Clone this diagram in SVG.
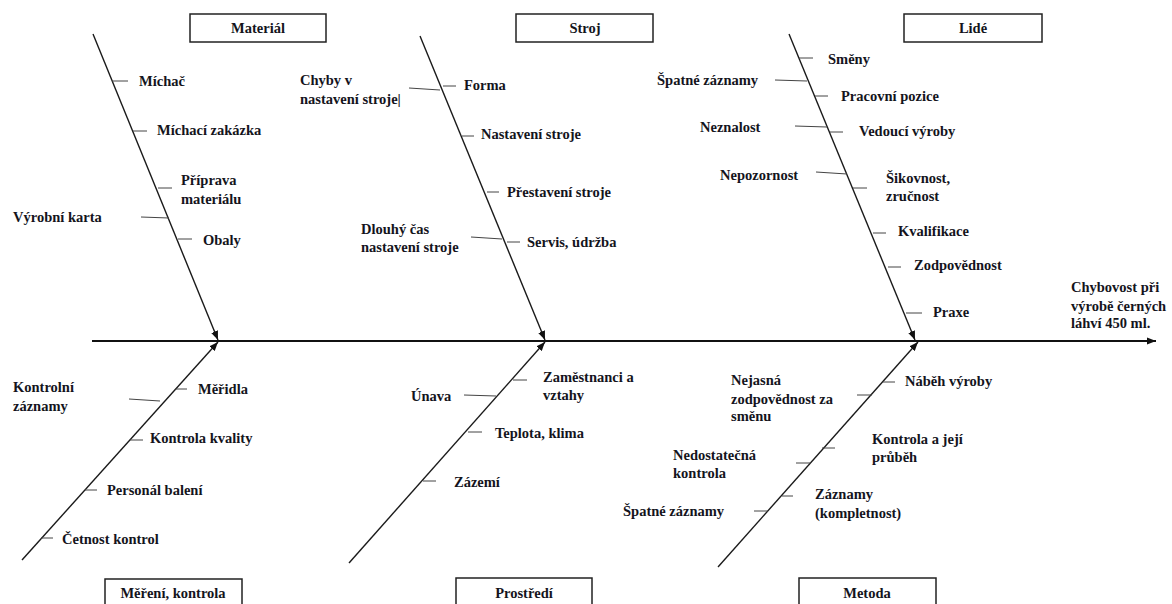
<svg xmlns="http://www.w3.org/2000/svg" width="1172" height="604" viewBox="0 0 1172 604">
<style>
.t{font-family:"Liberation Serif","Times New Roman",serif;font-weight:bold;font-size:14.5px;fill:#14141c}
.c{text-anchor:middle}
.box{fill:#fff;stroke:#222;stroke-width:1.5}
.bone{stroke:#1a1a1a;stroke-width:1.4;fill:none}
.spine{stroke:#111;stroke-width:2.2;fill:none}
.tick{stroke:#444;stroke-width:1;fill:none}
</style>
<defs>
<marker id="ah" viewBox="0 0 10 8" refX="10" refY="4" markerWidth="9" markerHeight="7.5" markerUnits="userSpaceOnUse" orient="auto">
<path d="M0,0 L10,4 L0,8 z" fill="#111"/>
</marker>
</defs>
<rect width="1172" height="604" fill="#fff"/>

<g id="connectors">
<line class="spine" x1="92" y1="341" x2="1156" y2="341" marker-end="url(#ah)"/>
<line class="bone" x1="93" y1="34" x2="218" y2="340" marker-end="url(#ah)"/>
<line class="bone" x1="420" y1="36" x2="545" y2="340" marker-end="url(#ah)"/>
<line class="bone" x1="789" y1="34" x2="915" y2="340" marker-end="url(#ah)"/>
<line class="bone" x1="22" y1="560" x2="218" y2="342" marker-end="url(#ah)"/>
<line class="bone" x1="349" y1="563" x2="545" y2="342" marker-end="url(#ah)"/>
<line class="bone" x1="718" y1="567" x2="918" y2="342" marker-end="url(#ah)"/>
<!-- Material ticks -->
<line class="tick" x1="112" y1="81" x2="128" y2="81"/>
<line class="tick" x1="133" y1="131" x2="147" y2="131"/>
<line class="tick" x1="158" y1="188" x2="172" y2="188"/>
<line class="tick" x1="141" y1="217" x2="169" y2="218"/>
<line class="tick" x1="178" y1="239" x2="192" y2="239"/>
<!-- Stroj ticks -->
<line class="tick" x1="409" y1="88" x2="440" y2="90"/>
<line class="tick" x1="443" y1="86" x2="456" y2="86"/>
<line class="tick" x1="462" y1="136" x2="474" y2="136"/>
<line class="tick" x1="487" y1="192" x2="499" y2="192"/>
<line class="tick" x1="471" y1="237" x2="502" y2="239"/>
<line class="tick" x1="507" y1="242" x2="520" y2="242"/>
<!-- Lide ticks -->
<line class="tick" x1="799" y1="58" x2="813" y2="58"/>
<line class="tick" x1="775" y1="80" x2="807" y2="81"/>
<line class="tick" x1="815" y1="96" x2="828" y2="96"/>
<line class="tick" x1="795" y1="126" x2="827" y2="127"/>
<line class="tick" x1="830" y1="132" x2="843" y2="132"/>
<line class="tick" x1="816" y1="172" x2="847" y2="174"/>
<line class="tick" x1="853" y1="188" x2="867" y2="188"/>
<line class="tick" x1="873" y1="233" x2="886" y2="233"/>
<line class="tick" x1="888" y1="267" x2="901" y2="267"/>
<line class="tick" x1="906" y1="313" x2="922" y2="313"/>
<!-- Mereni ticks -->
<line class="tick" x1="129" y1="399" x2="160" y2="401"/>
<line class="tick" x1="175" y1="389" x2="187" y2="389"/>
<line class="tick" x1="130" y1="440" x2="143" y2="440"/>
<line class="tick" x1="85" y1="490" x2="97" y2="490"/>
<line class="tick" x1="41" y1="538" x2="53" y2="538"/>
<!-- Prostredi ticks -->
<line class="tick" x1="513" y1="380" x2="527" y2="380"/>
<line class="tick" x1="464" y1="395" x2="496" y2="396"/>
<line class="tick" x1="468" y1="432" x2="482" y2="432"/>
<line class="tick" x1="423" y1="481" x2="436" y2="481"/>
<!-- Metoda ticks -->
<line class="tick" x1="883" y1="382" x2="895" y2="382"/>
<line class="tick" x1="857" y1="395" x2="872" y2="395"/>
<line class="tick" x1="822" y1="448" x2="835" y2="448"/>
<line class="tick" x1="796" y1="463" x2="811" y2="463"/>
<line class="tick" x1="782" y1="496" x2="793" y2="496"/>
<line class="tick" x1="754" y1="511" x2="768" y2="511"/>
</g>

<g id="material">
<rect class="box" x="190" y="14" width="136" height="28"/>
<text class="t c" x="258" y="33">Materiál</text>
<text class="t" x="139" y="86">Míchač</text>
<text class="t" x="157" y="135">Míchací zakázka</text>
<text class="t" x="181" y="185">Příprava</text>
<text class="t" x="181" y="204">materiálu</text>
<text class="t" x="13" y="222">Výrobní karta</text>
<text class="t" x="203" y="245">Obaly</text>
</g>

<g id="stroj">
<rect class="box" x="516" y="14" width="137" height="28"/>
<text class="t c" x="585" y="33">Stroj</text>
<text class="t" x="300" y="85">Chyby v</text>
<text class="t" x="300" y="104">nastavení stroje|</text>
<text class="t" x="464" y="90">Forma</text>
<text class="t" x="481" y="139">Nastavení stroje</text>
<text class="t" x="507" y="197">Přestavení stroje</text>
<text class="t" x="361" y="234">Dlouhý čas</text>
<text class="t" x="361" y="252">nastavení stroje</text>
<text class="t" x="527" y="247">Servis, údržba</text>
</g>

<g id="lide">
<rect class="box" x="904" y="14" width="138" height="28"/>
<text class="t c" x="973" y="33">Lidé</text>
<text class="t" x="828" y="64">Směny</text>
<text class="t" x="657" y="85">Špatné záznamy</text>
<text class="t" x="841" y="101">Pracovní pozice</text>
<text class="t" x="700" y="132">Neznalost</text>
<text class="t" x="859" y="136">Vedoucí výroby</text>
<text class="t" x="720" y="180">Nepozornost</text>
<text class="t" x="886" y="183">Šikovnost,</text>
<text class="t" x="886" y="201">zručnost</text>
<text class="t" x="898" y="236">Kvalifikace</text>
<text class="t" x="914" y="270">Zodpovědnost</text>
<text class="t" x="933" y="317">Praxe</text>
</g>

<g id="mereni">
<rect class="box" x="105" y="579" width="137" height="40"/>
<text class="t c" x="173" y="598">Měření, kontrola</text>
<text class="t" x="13" y="392">Kontrolní</text>
<text class="t" x="13" y="411">záznamy</text>
<text class="t" x="198" y="394">Měřidla</text>
<text class="t" x="150" y="443">Kontrola kvality</text>
<text class="t" x="107" y="495">Personál balení</text>
<text class="t" x="62" y="544">Četnost kontrol</text>
</g>

<g id="prostredi">
<rect class="box" x="456" y="578" width="136" height="40"/>
<text class="t c" x="524" y="598">Prostředí</text>
<text class="t" x="543" y="382">Zaměstnanci a</text>
<text class="t" x="543" y="400">vztahy</text>
<text class="t" x="411" y="401">Únava</text>
<text class="t" x="495" y="438">Teplota, klima</text>
<text class="t" x="454" y="487">Zázemí</text>
</g>

<g id="metoda">
<rect class="box" x="799" y="578" width="137" height="40"/>
<text class="t c" x="867" y="598">Metoda</text>
<text class="t" x="731" y="385">Nejasná</text>
<text class="t" x="731" y="404">zodpovědnost za</text>
<text class="t" x="731" y="421">směnu</text>
<text class="t" x="905" y="386">Náběh výroby</text>
<text class="t" x="872" y="444">Kontrola a její</text>
<text class="t" x="872" y="462">průběh</text>
<text class="t" x="673" y="460">Nedostatečná</text>
<text class="t" x="673" y="478">kontrola</text>
<text class="t" x="815" y="499">Záznamy</text>
<text class="t" x="815" y="518">(kompletnost)</text>
<text class="t" x="623" y="516">Špatné záznamy</text>
</g>

<g id="effect">
<text class="t" x="1071" y="292">Chybovost při</text>
<text class="t" x="1071" y="311">výrobě černých</text>
<text class="t" x="1071" y="328">láhví 450 ml.</text>
</g>
</svg>
